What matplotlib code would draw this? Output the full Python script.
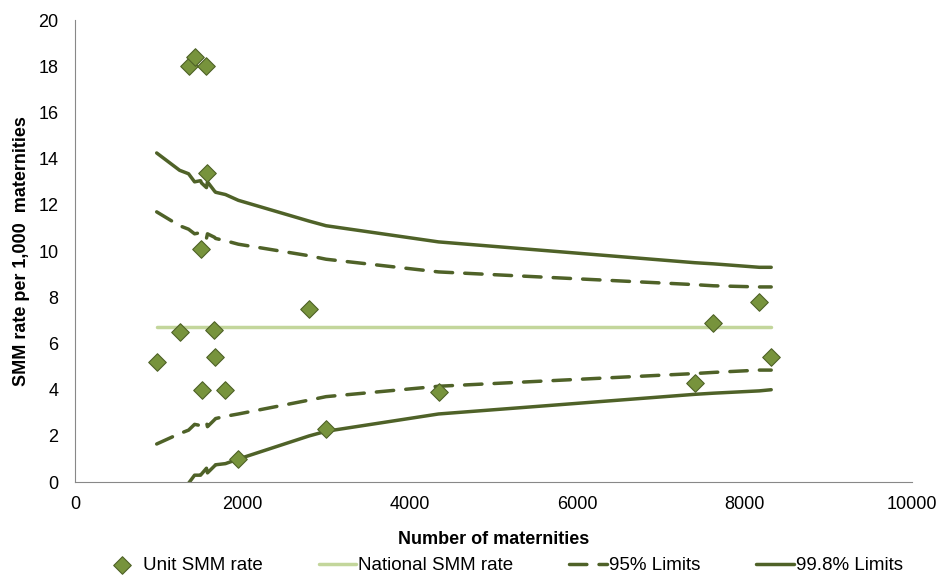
import matplotlib
matplotlib.use("Agg")
import matplotlib.pyplot as plt

plt.rcParams['font.family'] = ['Liberation Sans', 'DejaVu Sans']

# unit points
unit_x = [976, 1250, 1357, 1429, 1571, 1583, 1500, 1667, 1679, 1512, 1798, 1952,
          2798, 3000, 4345, 7405, 7631, 8179, 8321]
unit_y = [5.2, 6.5, 18.0, 18.4, 18.0, 13.4, 10.1, 6.6, 5.4, 4.0, 4.0, 1.0,
          7.5, 2.3, 3.9, 4.3, 6.9, 7.8, 5.4]

national_rate = 6.7

# control limits, along the number of maternities
lim_x = [976, 1250, 1357, 1429, 1500, 1512, 1571, 1583, 1667, 1679, 1798, 1952,
         2798, 3000, 4345, 7405, 7631, 8179, 8321]
upper998 = [14.25, 13.5, 13.35, 13.0, 13.05, 12.95, 12.75, 13.0, 12.6, 12.55, 12.45, 12.2,
            11.3, 11.1, 10.4, 9.5, 9.45, 9.3, 9.3]
upper95 = [11.7, 11.1, 10.95, 10.75, 10.8, 10.7, 10.55, 10.75, 10.6, 10.55, 10.45, 10.3,
           9.8, 9.65, 9.1, 8.55, 8.5, 8.45, 8.45]
lower95 = [1.65, 2.1, 2.25, 2.5, 2.45, 2.55, 2.6, 2.4, 2.7, 2.75, 2.85, 2.95,
           3.55, 3.7, 4.15, 4.7, 4.75, 4.85, 4.85]
lower998 = [-1.2, -0.4, -0.05, 0.3, 0.3, 0.35, 0.6, 0.4, 0.7, 0.75, 0.8, 1.0,
            2.0, 2.2, 2.95, 3.8, 3.85, 3.95, 4.0]

dark = '#4F6228'
light = '#C3D69B'
marker_fill = '#77933C'
dash = (0, (5, 3.5))

fig = plt.figure(figsize=(9.39, 5.76), dpi=100)
ax = fig.add_axes([0.0799, 0.163, 0.891, 0.802])

ax.plot([min(unit_x), max(unit_x)], [national_rate, national_rate], color=light, lw=2.5,
        solid_capstyle='round', label='National SMM rate', zorder=2)
ax.plot(lim_x, upper95, color=dark, lw=2.5, ls=dash, dash_capstyle='round',
        label='95% Limits', zorder=2)
ax.plot(lim_x, lower95, color=dark, lw=2.5, ls=dash, dash_capstyle='round', zorder=2)
ax.plot(lim_x, upper998, color=dark, lw=2.5, solid_capstyle='round',
        label='99.8% Limits', zorder=2)
ax.plot(lim_x, lower998, color=dark, lw=2.5, solid_capstyle='round', zorder=2)
ax.scatter(unit_x, unit_y, marker='D', s=80, color=marker_fill, edgecolors=dark,
           linewidths=0.8, label='Unit SMM rate', zorder=3)

ax.set_xlim(0, 10000)
ax.set_ylim(0, 20)
ax.set_xticks(range(0, 10001, 2000))
ax.set_yticks(range(0, 21, 2))
ax.tick_params(labelsize=13, length=0)
ax.tick_params(axis='x', pad=10)
ax.tick_params(axis='y', pad=12)
for s in ['top', 'right']:
    ax.spines[s].set_visible(False)
for s in ['left', 'bottom']:
    ax.spines[s].set_color('#888888')

ax.set_xlabel('Number of maternities', fontsize=13, fontweight='bold', labelpad=13)
ax.set_ylabel('SMM rate per 1,000  maternities', fontsize=13, fontweight='bold', labelpad=6)

h, l = ax.get_legend_handles_labels()
order = [l.index(n) for n in ['Unit SMM rate', 'National SMM rate', '95% Limits', '99.8% Limits']]
fig.legend([h[i] for i in order], [l[i] for i in order], loc='center left',
           bbox_to_anchor=(0.092, 0.018), ncol=4, frameon=False, fontsize=13.5,
           handlelength=2.0, handletextpad=0.1, columnspacing=3.0, borderpad=0.4)

fig.savefig('out.png', dpi=100)
